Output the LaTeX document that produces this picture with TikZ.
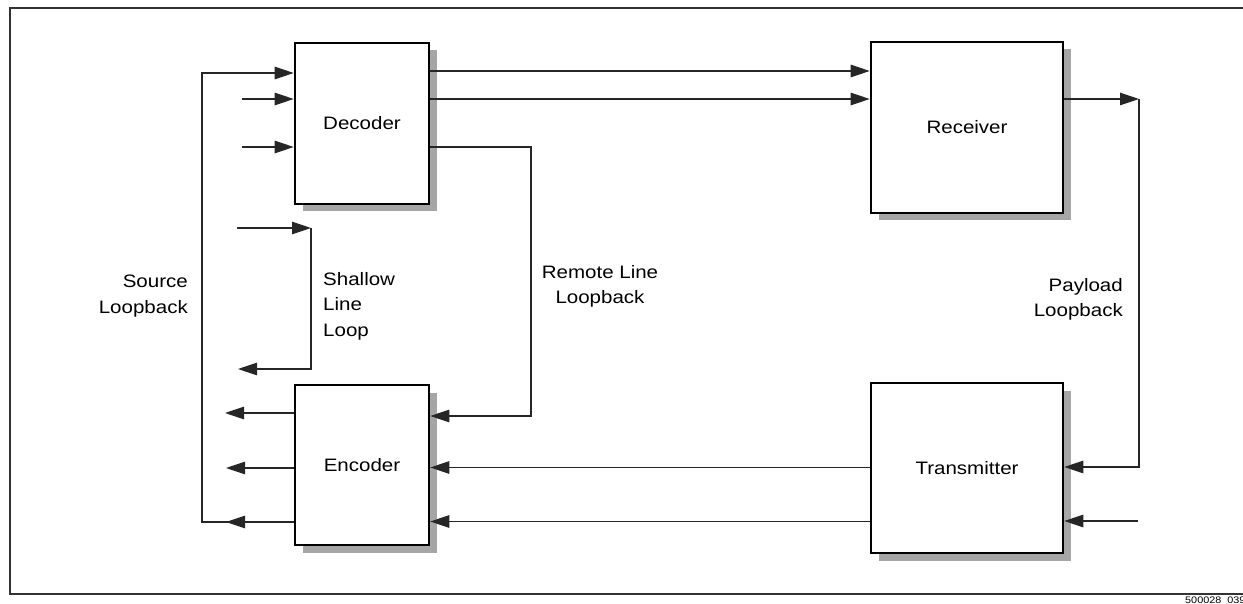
\documentclass[tikz,border=0pt]{standalone}
\usepackage{fontspec}
\setmainfont{Liberation Sans}[FakeStretch=1.14]
\usetikzlibrary{arrows.meta,shadows}
\begin{document}
\begin{tikzpicture}[x=1pt,y=-1pt,
  every node/.style={font=\fontsize{18}{25.5}\selectfont},
  blk/.style={draw, line width=2.6pt, fill=white, inner sep=0pt,
    drop shadow={shadow xshift=7.5pt, shadow yshift=-7.5pt, fill=black!35, opacity=1}},
  conn/.style={line width=1.2pt, draw=black!85},
  arr/.style={conn, -{Triangle[length=19pt,width=12.5pt]}},
  lbl/.style={inner sep=0pt, anchor=base}
]
\useasboundingbox (0,0) rectangle (1243,604);
% frame
\draw[line width=1.8pt, black!80] (1243,8) -- (10,8) -- (10,594) -- (1243,594);

% blocks
\node[blk, minimum width=134pt, minimum height=161pt] (dec) at (362,123.5) {Decoder};
\node[blk, minimum width=134pt, minimum height=160pt] (enc) at (362,465) {Encoder};
\node[blk, minimum width=192pt, minimum height=171pt] (rec) at (967,127.5) {Receiver};
\node[blk, minimum width=192pt, minimum height=170pt] (tra) at (967,468) {Transmitter};

% free-end coordinates
\coordinate (dinA) at (242,99);
\coordinate (dinB) at (242,147);
\coordinate (eoutA) at (225,413);
\coordinate (eoutB) at (226,468);
\coordinate (eoutC) at (226,522);
\coordinate (slb) at (202,522);
\coordinate (slt) at (202,73);
\coordinate (shA) at (237,228);
\coordinate (shB) at (311,228);
\coordinate (shC) at (311,369);
\coordinate (shD) at (238,369);
\coordinate (rl1) at (531,147);
\coordinate (rl2) at (531,416);
\coordinate (pl1) at (1139,99);
\coordinate (pl2) at (1139,467);
\coordinate (tin) at (1138,521);

% source loopback
\draw[arr] (enc.west |- eoutC) -- (eoutC);
\draw[arr] (enc.west |- slb) -- (slb) -- (slt) -- (dec.west |- slt);
% decoder inputs
\draw[arr] (dinA) -- (dec.west |- dinA);
\draw[arr] (dinB) -- (dec.west |- dinB);
% encoder outputs
\draw[arr] (enc.west |- eoutA) -- (eoutA);
\draw[arr] (enc.west |- eoutB) -- (eoutB);
% shallow line loop
\draw[arr] (shA) -- (shB);
\draw[arr] (shB) -- (shC) -- (shD);
% decoder to receiver
\draw[arr] (dec.east |- 0,71) -- (rec.west |- 0,71);
\draw[arr] (dec.east |- 0,99) -- (rec.west |- 0,99);
% remote line loopback
\draw[arr] (dec.east |- rl1) -- (rl1) -- (rl2) -- (enc.east |- rl2);
% payload loopback
\draw[arr] (rec.east |- pl1) -- (pl1);
\draw[arr] (pl1) -- (pl2) -- (tra.east |- pl2);
\draw[arr] (tin) -- (tra.east |- tin);
% transmitter to encoder
\draw[arr] (tra.west |- 0,467.5) -- (enc.east |- 0,467.5);
\draw[arr] (tra.west |- 0,521.5) -- (enc.east |- 0,521.5);

% labels
\node[inner sep=0pt, align=right, anchor=north east] (lsrc) at (188,275) {Source\\Loopback};
\node[inner sep=0pt, align=left, anchor=north west] (lsh) at (323,272) {Shallow\\Line\\Loop};
\node[inner sep=0pt, align=center, anchor=north] (lrl) at (600,265) {Remote Line\\Loopback};
\node[inner sep=0pt, align=right, anchor=north east] (lpl) at (1123,278) {Payload\\Loopback};
\node[inner sep=0pt, anchor=base west, font=\fontsize{9.5}{11}\selectfont] (fig) at (1185,603) {500028\_039};
\end{tikzpicture}
\end{document}
